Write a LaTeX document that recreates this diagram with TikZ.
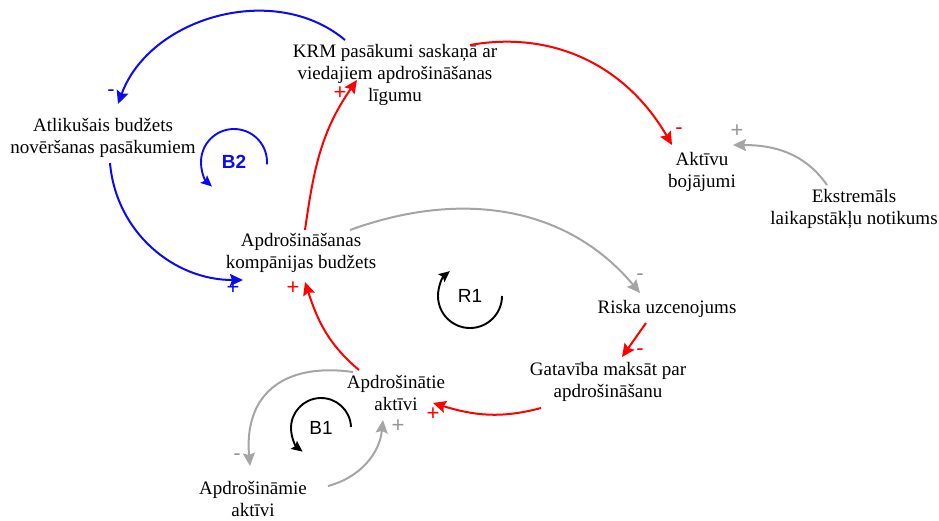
\documentclass[tikz,border=0pt]{standalone}
\usepackage{fontspec}
\setmainfont{Liberation Serif}
\setsansfont{Liberation Sans}
\usetikzlibrary{arrows.meta}

\definecolor{cldblue}{RGB}{10,10,245}
\definecolor{cldred}{RGB}{255,0,0}
\definecolor{cldgray}{RGB}{165,165,165}
\definecolor{signgray}{RGB}{150,150,150}

\begin{document}
\begin{tikzpicture}[x=1pt,y=1pt,
  var/.style={align=center, inner sep=0pt, font=\fontsize{19}{22}\selectfont},
  link/.style={line width=2pt, -{Stealth[length=13pt,width=12pt,inset=2pt]}},
  loopmark/.style={line width=1.9pt, -{Stealth[length=11pt,width=10pt,inset=2pt]}},
  looplabel/.style={inner sep=0pt, font=\sffamily\fontsize{19}{19}\selectfont},
  sign/.style={inner sep=0pt, font=\sffamily\fontsize{22}{22}\selectfont}]
\useasboundingbox (0,0) rectangle (939,-520);

% variables
\node[var] (krm) at (395,-75) {KRM pasākumi saskaņā ar\\viedajiem apdrošināšanas\\līgumu};
\node[var] (atl) at (103,-138) {Atlikušais budžets\\novēršanas pasākumiem};
\node[var] (akt) at (702,-172) {Aktīvu\\bojājumi};
\node[var] (eks) at (854,-209) {Ekstremāls\\laikapstākļu notikums};
\node[var] (bud) at (301,-253) {Apdrošināšanas\\kompānijas budžets};
\node[var] (ris) at (667,-309) {Riska uzcenojums};
\node[var] (gat) at (608,-382) {Gatavība maksāt par\\apdrošināšanu};
\node[var] (apt) at (396,-393) {Apdrošinātie\\aktīvi};
\node[var] (apm) at (253,-499) {Apdrošināmie\\aktīvi};

% causal links
\draw[link,cldblue] ([shift={(-50,35)}]krm.center) to[out=140,in=70] ([shift={(15,34)}]atl.center);
\draw[link,cldblue] ([shift={(7,-25)}]atl.center) to[out=-85,in=180] ([shift={(-58,-27)}]bud.center);
\draw[link,cldred] ([shift={(4,23)}]bud.center) to[out=82,in=235] ([shift={(-38,-5)}]krm.center);
\draw[link,cldred] ([shift={(75,30)}]krm.center) to[out=10,in=120] ([shift={(-30,27)}]akt.center);
\draw[link,cldgray] ([shift={(-27,24)}]eks.center) to[out=125,in=0] ([shift={(31,27)}]akt.center);
\draw[link,cldgray] ([shift={(49,23)}]bud.center) to[out=20,in=130] ([shift={(-27,16)}]ris.center);
\draw[link,cldred] ([shift={(-21,-14)}]ris.center) -- ([shift={(14,25)}]gat.center);
\draw[link,cldred] ([shift={(-67,-26)}]gat.center) to[out=195,in=-17] ([shift={(37,-10)}]apt.center);
\draw[link,cldred] ([shift={(-37,23)}]apt.center) to[out=140,in=-72] ([shift={(4,-29)}]bud.center);
\draw[link,cldgray] ([shift={(-43,21)}]apt.center) to[out=172,in=95,looseness=1.3] ([shift={(-3,33)}]apm.center);
\draw[link,cldgray] ([shift={(75,13)}]apm.center) to[out=15,in=-96] ([shift={(-13,-27)}]apt.center);

% link polarities
\node[sign,text=cldblue] (s1) at (111,-93) {-};
\node[sign,text=cldblue] (s2) at (233,-288) {+};
\node[sign,text=cldred] (s3) at (340,-93) {+};
\node[sign,text=cldred] (s4) at (679,-131) {-};
\node[sign,text=signgray] (s5) at (737,-131) {+};
\node[sign,text=signgray] (s6) at (640,-277) {-};
\node[sign,text=cldred] (s7) at (640,-352) {-};
\node[sign,text=cldred] (s8) at (433,-414) {+};
\node[sign,text=cldred] (s9) at (293,-288) {+};
\node[sign,text=signgray] (s10) at (237,-457) {-};
\node[sign,text=signgray] (s11) at (398,-426) {+};

% loop markers
\node[looplabel,text=cldblue,font=\sffamily\bfseries\fontsize{19}{19}\selectfont] (b2) at (234,-162) {B2};
\draw[loopmark,cldblue] ([shift={(-4:33)}]b2.center) arc[start angle=-4,end angle=228,radius=33];
\node[looplabel] (r1) at (470,-296) {R1};
\draw[loopmark] ([shift={(0:32)}]r1.center) arc[start angle=0,end angle=-231,radius=32];
\node[looplabel] (b1) at (321,-428) {B1};
\draw[loopmark] ([shift={(2:30)}]b1.center) arc[start angle=2,end angle=232,radius=30];
\end{tikzpicture}
\end{document}
